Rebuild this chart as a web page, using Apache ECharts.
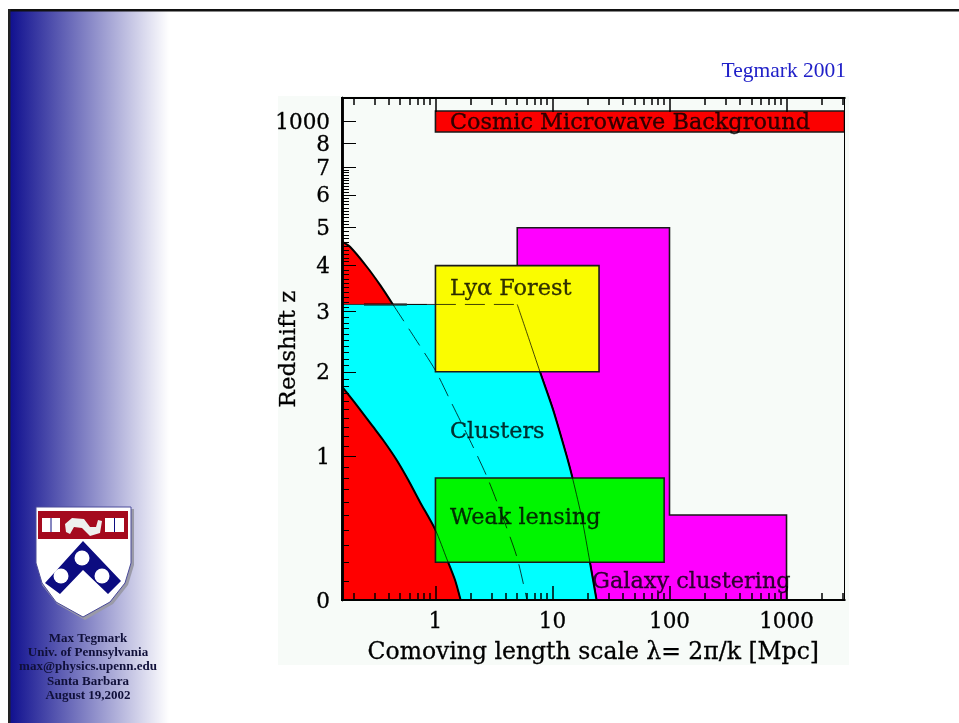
<!DOCTYPE html>
<html><head><meta charset="utf-8">
<style>html,body{margin:0;padding:0;background:#fff}#c{width:959px;height:723px}</style>
<script src="https://cdn.jsdelivr.net/npm/echarts@6/dist/echarts.min.js"></script>
</head><body><div id="c"></div>
<script>
// Redshift axis scale (z -> axis distance, z=1 is 1)
const scaleZ = [0,.1,.2,.3,.4,.5,.6,.7,.8,.9,1,1.25,1.5,1.75,2,2.5,3,3.5,4,4.5,5,5.5,6,6.5,7,8,900,1000,1100,10000];
const scaleD = [0,.132,.262,.380,.486,.590,.681,.767,.847,.924,1,1.171,1.324,1.462,1.585,1.806,2.002,2.170,2.322,2.458,2.585,2.701,2.813,2.913,3.005,3.169,3.25,3.326,3.396,3.486];
const lambdaMin = 0.159, lambdaMax = 3130;

const xMajor = [1,10,100,1000];
const xMinor = [.2,.3,.4,.5,.6,.7,.8,.9,2,3,4,5,6,7,8,9,20,30,40,50,60,70,80,90,200,300,400,500,600,700,800,900,2000,3000];
const zMajor = [0,1,2,3,4,5,6,7,8,1000];
const zMinor = [.1,.2,.3,.4,.5,.6,.7,.8,.9,1.1,1.2,1.3,1.4,1.5,1.6,1.7,1.8,1.9,2.1,2.2,2.3,2.4,2.5,2.6,2.7,2.8,2.9,3.1,3.2,3.3,3.4,3.5,3.6,3.7,3.8,3.9,4.1,4.2,4.3,4.4,4.5,4.6,4.7,4.8,4.9,5.1,5.2,5.3,5.4,5.5,5.6,5.7,5.8,5.9,6.1,6.2,6.3,6.4,6.5,6.6,6.7,6.8,6.9];

// Curves, [comoving scale, redshift]
const nonlinearLower = [[.159,1.79],[.212,1.554],[.294,1.30],[.358,1.16],[.466,.964],[.586,.783],[.737,.6],[1,.4],[1.25,.22],[1.47,.105],[1.64,0]];
const nonlinearUpper = [[.159,4.62],[.186,4.48],[.258,3.98],[.336,3.56],[.433,3.15]];
const clusterLimit = [[5,3.15],[6.24,2.54],[7.82,2],[10.1,1.5],[13.3,.99],[15,.78],[17.9,.473],[20.9,.2],[23.8,0]];
const dashedCurve = [[.433,3.15],[.668,2.53],[1,2.02],[1.33,1.62],[1.97,1.16],[2.76,.81],[3.78,.48],[4.97,.23],[6.05,0]];
const clusterZ = 3.15;
const cmbBox = [[1,900],[lambdaMax,1100]];
const lyaBox = [[1,2],[25,4]];
const lensBox = [[1,.2],[90,.8]];
const galaxyTop = [[5,5],[100,5],[100,.5],[1000,.5],[1000,0]];

const labelNames = ['Cosmic Microwave Background','Ly\u03B1 Forest','Clusters','Weak lensing','Galaxy clustering'];
const labelAt = [[1.33,1000],[1.33,3.5],[1.33,1.26],[1.33,.49],[21.8,.105]];

function d(z){
  for(let i=1;i<scaleZ.length;i++){
    if(z<=scaleZ[i]){const t=(z-scaleZ[i-1])/(scaleZ[i]-scaleZ[i-1]);return scaleD[i-1]+t*(scaleD[i]-scaleD[i-1]);}
  }
  return scaleD[scaleD.length-1];
}
const toPts = a => a.map(p=>[p[0],d(p[1])]);
const rect = b => [[b[0][0],b[0][1]],[b[1][0],b[0][1]],[b[1][0],b[1][1]],[b[0][0],b[1][1]]];
const dMax = scaleD[scaleD.length-1];

function poly(name,pts,fill,z,edge){
  const P = toPts(pts);
  return {type:'custom',name,z,silent:true,clip:true,data:P,encode:{x:0,y:1},
    renderItem(params,api){
      if(params.dataIndex!==0) return null;
      return {type:'polygon',shape:{points:P.map(p=>api.coord(p))},
        style:{fill,stroke:edge?'#1a1a1a':null,lineWidth:edge?1.6:0}};
    }};
}
function line(name,pts,width,color,z,dash,smooth){
  return {type:'line',name,z,silent:true,data:toPts(pts),showSymbol:false,symbol:'none',
    smooth:smooth?0.25:false,lineStyle:{width,color,type:dash?[20,9]:'solid'}};
}
const tickStyle = {color:'#000',width:1.5};
const xBase = {type:'log',logBase:10,min:lambdaMin,max:lambdaMax,gridIndex:0,z:20,silent:true,splitLine:{show:false},minorTick:{show:false},axisLine:{show:true,onZero:false,lineStyle:{color:'#000',width:2}}};
const yBase = {type:'value',min:0,max:dMax,gridIndex:0,z:20,silent:true,splitLine:{show:false},axisLine:{show:true,onZero:false,lineStyle:{color:'#000',width:2.5}}};
const serifFont = '"DejaVu Serif"';
const inkText = {textBorderColor:'#000',textBorderWidth:0.3};

const option = {
  animation:false,
  backgroundColor:'#fff',
  grid:{left:342,top:98,width:502.5,height:502,show:true,borderColor:'#000',borderWidth:1,backgroundColor:'transparent',z:19},
  xAxis:[
    {...xBase,position:'bottom',name:'Comoving length scale \u03BB= 2\u03C0/k [Mpc]',nameLocation:'middle',nameGap:41,nameMoveOverlap:false,
      nameTextStyle:{fontFamily:serifFont,fontSize:23.5,color:'#000',...inkText},
      axisTick:{show:true,inside:true,length:14,lineStyle:tickStyle,customValues:xMajor},
      axisLabel:{show:true,margin:11,fontFamily:serifFont,fontSize:21.5,color:'#000',...inkText,customValues:xMajor,formatter:v=>String(Math.round(v))}},
    {...xBase,position:'bottom',axisTick:{show:true,inside:true,length:7,lineStyle:tickStyle,customValues:xMinor},axisLabel:{show:false}},
    {...xBase,position:'top',axisTick:{show:true,inside:true,length:14,lineStyle:tickStyle,customValues:xMajor},axisLabel:{show:false}},
    {...xBase,position:'top',axisTick:{show:true,inside:true,length:7,lineStyle:tickStyle,customValues:xMinor},axisLabel:{show:false}}
  ],
  yAxis:[
    {...yBase,position:'left',name:'Redshift z',nameLocation:'middle',nameGap:41,nameRotate:90,nameMoveOverlap:false,
      nameTextStyle:{fontFamily:serifFont,fontSize:23,color:'#000',...inkText},
      axisTick:{show:true,inside:true,length:14,lineStyle:{color:'#000',width:1},customValues:zMajor.map(d)},
      axisLabel:{show:true,margin:12,color:'#000',customValues:zMajor.map(d),
        rich:{t:{fontFamily:serifFont,fontSize:21.5,color:'#000',...inkText,padding:[4,0,0,0]}},
        formatter:v=>{let b=0;zMajor.forEach((z,i)=>{if(Math.abs(d(z)-v)<Math.abs(d(zMajor[b])-v))b=i;});return '{t|'+zMajor[b]+'}';}}},
    {...yBase,position:'left',axisTick:{show:true,inside:true,length:7,lineStyle:{color:'#000',width:1},customValues:zMinor.map(d)},axisLabel:{show:false}}
  ],
  series:[
    poly('Galaxy clustering',galaxyTop.concat(clusterLimit.slice().reverse()),'#ff00ff',2,true),
    poly('Clusters',[[lambdaMin,clusterZ]].concat(clusterLimit,nonlinearLower.slice().reverse()),'#00ffff',3,false),
    poly('Nonlinear lower',[[lambdaMin,0]].concat(nonlinearLower),'#ff0000',3,false),
    poly('Nonlinear upper',[[lambdaMin,clusterZ]].concat(nonlinearUpper),'#ff0000',3,false),
    line('Lower edge',nonlinearLower,2,'#000',4,false,true),
    line('Upper edge',nonlinearUpper,2,'#000',4,false,true),
    line('Cluster edge',clusterLimit,2,'#000',4,false,true),
    line('Top edge',[[.245,clusterZ],[.57,clusterZ]],2,'#000',4,false,false),
    line('Top edge thin',[[lambdaMin,clusterZ],[1,clusterZ]],1,'#333',4,false,false),
    poly('Ly-alpha Forest',rect(lyaBox),'#fafc00',6,true),
    poly('Weak lensing',rect(lensBox),'#00f500',6,true),
    poly('Cosmic Microwave Background',rect(cmbBox),'#fb0000',6,true),
    line('Cluster thin',clusterLimit,1,'rgba(0,0,0,.7)',7,false,true),
    line('Lower thin',nonlinearLower,1,'rgba(0,0,0,.7)',7,false,true),
    line('Dashed horizontal',[[.57,clusterZ],[5,clusterZ]],1,'rgba(0,0,0,.75)',7,true,false),
    line('Dashed curve',dashedCurve,1,'rgba(0,0,0,.75)',7,true,true),
    {type:'scatter',name:'Labels',z:8,silent:true,symbolSize:0,
      data:labelNames.map((n,i)=>({name:n,value:[labelAt[i][0],d(labelAt[i][1])]})),
      label:{show:true,position:'right',distance:0,offset:[0,2],formatter:'{b}',fontFamily:serifFont,fontSize:22.4,color:'#000',...inkText}}
  ],
  graphic:{elements:[
    {type:'rect',silent:true,z:-10,shape:{x:278,y:96,width:571,height:569},style:{fill:'#f7fbf8'}},
    {type:'rect',silent:true,z:-9,shape:{x:10,y:11,width:159,height:712},
      style:{fill:new echarts.graphic.LinearGradient(0,0,1,0,[{offset:0,color:'#10108f'},{offset:1,color:'#ffffff'}])}},
    {type:'rect',silent:true,z:-8,shape:{x:8,y:9,width:951,height:2.5},style:{fill:'#111'}},
    {type:'rect',silent:true,z:-8,shape:{x:8,y:9,width:2.5,height:714},style:{fill:'#222'}},
    // shield
    {type:'polygon',silent:true,z:-7,shape:{points:[[38,509],[134,509],[134,565],[128,585],[113,604],[85,620],[57,604],[42,585],[38,565]]},style:{fill:'#9a9aa8'}},
    {type:'polygon',silent:true,z:-7,shape:{points:[[36,507],[131,507],[131,563],[125,583],[110,602],[83,617],[56,602],[42,583],[36,563]]},style:{fill:'#ffffff',stroke:'#4a4a9a',lineWidth:1}},
    {type:'rect',silent:true,z:-6,shape:{x:38,y:511,width:90,height:28},style:{fill:'#a50a1e'}},
    {type:'polygon',silent:true,z:-6,shape:{points:[[83,541],[121,581],[108,594],[83,570],[60,594],[45,583]]},style:{fill:'#0c0c80'}},
    {type:'circle',silent:true,z:-5,shape:{cx:82,cy:558,r:7.5},style:{fill:'#fff'}},
    {type:'circle',silent:true,z:-5,shape:{cx:61,cy:576,r:7.5},style:{fill:'#fff'}},
    {type:'circle',silent:true,z:-5,shape:{cx:102,cy:576,r:7.5},style:{fill:'#fff'}},
    {type:'rect',silent:true,z:-5,shape:{x:42,y:518,width:18,height:14},style:{fill:'#fff'}},
    {type:'rect',silent:true,z:-5,shape:{x:105,y:518,width:19,height:14},style:{fill:'#fff'}},
    {type:'line',silent:true,z:-4,shape:{x1:51,y1:518,x2:51,y2:532},style:{stroke:'#0c0c80',lineWidth:1}},
    {type:'line',silent:true,z:-4,shape:{x1:114.5,y1:518,x2:114.5,y2:532},style:{stroke:'#0c0c80',lineWidth:1}},
    {type:'polygon',silent:true,z:-5,shape:{points:[[65,524],[72,518],[84,519],[90,527],[96,527],[98,520],[102,521],[100,533],[90,536],[82,528],[74,527],[70,534],[66,532]]},style:{fill:'#eef0ee'}},
    // text
    {type:'text',silent:true,z:30,style:{x:846,y:71,text:'Tegmark 2001',align:'right',verticalAlign:'middle',fontFamily:'"Liberation Serif"',fontSize:21.5,fill:'#2020c8'}},
    ...['Max Tegmark','Univ. of Pennsylvania','max@physics.upenn.edu','Santa Barbara','August 19,2002'].map((t,i)=>({
      type:'text',silent:true,z:30,style:{x:88,y:[639,653,667,682,696][i],text:t,align:'center',verticalAlign:'middle',fontFamily:'"Liberation Serif"',fontWeight:'bold',fontSize:13,fill:'#10103a'}}))
  ]}
};
echarts.init(document.getElementById('c')).setOption(option);
</script></body></html>
